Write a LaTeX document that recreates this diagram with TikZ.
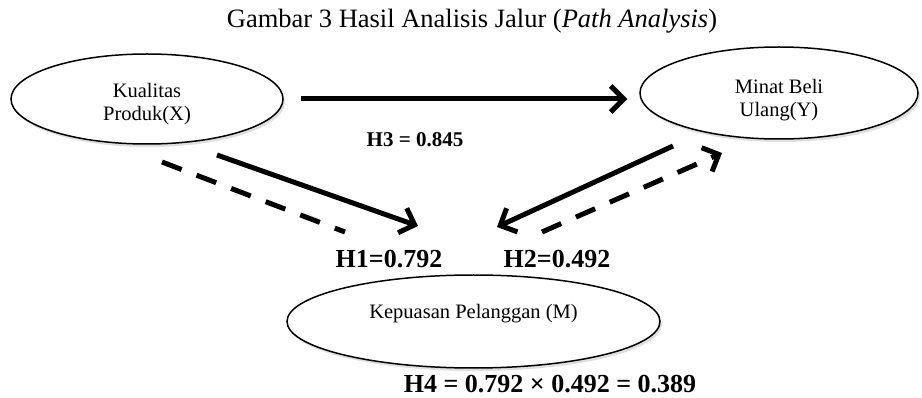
\documentclass[tikz,border=0pt]{standalone}
\usepackage{fontspec}
\setmainfont{Liberation Serif}
\usepackage{tikz}
\usetikzlibrary{shapes.geometric,arrows.meta,shadows}

\begin{document}
\begin{tikzpicture}[x=1pt,y=-1pt]
			\tikzstyle{var}=[ellipse,draw=black,line width=1.5pt,fill=white,inner sep=0pt,drop shadow={shadow xshift=2pt,shadow yshift=-3pt,opacity=0.25}]
			\tikzstyle{path}=[line width=5pt,-{Straight Barb[length=13pt,width=26pt,line width=5pt]}]
			\tikzstyle{dpath}=[line width=5pt,dash pattern=on 21pt off 16pt]
			\tikzstyle{lbl}=[font=\fontsize{20.5}{23.5}\selectfont,align=center]
			\tikzstyle{coef}=[font=\bfseries\fontsize{26}{28}\selectfont,inner sep=0pt,anchor=base]
			\useasboundingbox (0,0) rectangle (922,398);
			\node[font=\fontsize{26.5}{28}\selectfont,anchor=base,inner sep=0pt] (title) at (472,28) {Gambar 3 Hasil Analisis Jalur (\textit{Path Analysis})};
			\node (kp)[var,minimum width=272pt,minimum height=90pt,label={[lbl,yshift=-5pt]center:Kualitas\\Produk(X)}] at (147,99) {};
			\node (mb)[var,minimum width=278pt,minimum height=92pt,label={[lbl,yshift=-7pt]center:Minat Beli\\Ulang(Y)}] at (779,93) {};
			\node (kep)[var,minimum width=373pt,minimum height=93pt,label={[lbl,yshift=8pt]center:Kepuasan Pelanggan (M)}] at (473.5,321.5) {};
			\coordinate (a1) at (217,155);
			\coordinate (b1) at (418,226);
			\coordinate (a2) at (673,146);
			\coordinate (b2) at (497,227);
			\coordinate (c1) at (162,162);
			\coordinate (d1) at (345,232);
			\coordinate (c2) at (542,232);
			\coordinate (d2) at (722,153);
			\draw[path,shorten <=17pt,shorten >=12pt] (kp.east) -- (kp.east -| mb.west);
			\draw[path] (a1) -- (b1);
			\draw[path] (a2) -- (b2);
			\draw[dpath] (c1) -- (d1);
			\draw[dpath,-{Straight Barb[length=13pt,width=26pt,line width=5pt]}] (c2) -- (d2);
			\node[coef,font=\bfseries\fontsize{21}{24}\selectfont] (h3) at (415,147) {H3 = 0.845};
			\node[coef] (h1) at (389,268) {H1=0.792};
			\node[coef] (h2) at (557,268) {H2=0.492};
			\node[coef] (h4) at (550,392) {H4 = 0.792 × 0.492 = 0.389};
		\end{tikzpicture}
\end{document}
